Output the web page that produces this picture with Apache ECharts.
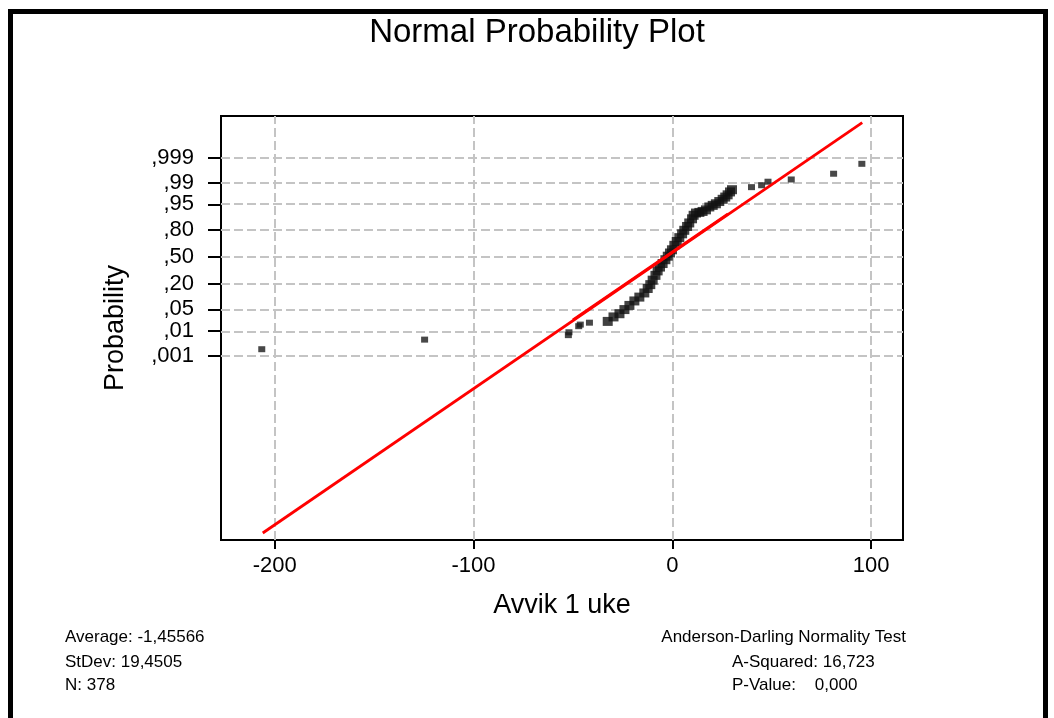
<!DOCTYPE html>
<html>
<head>
<meta charset="utf-8">
<script src="https://cdn.jsdelivr.net/npm/echarts@6/dist/echarts.min.js"></script>
<style>
html,body{margin:0;padding:0;background:#fff;}
#chart{width:1054px;height:718px;}
</style>
</head>
<body>
<div id="chart"></div>
<script>
// ---- data ----
const xTicks = [-200, -100, 0, 100];
// normal-score positions of the probability ticks, and their labels
const yTickZ = [-3.090, -2.326, -1.645, -0.842, 0, 0.842, 1.645, 2.326, 3.090];
const yTickLabels = [',001', ',01', ',05', ',20', ',50', ',80', ',95', ',99', ',999'];

// isolated observations in the tails (x = Avvik 1 uke, z = normal score)
const tailX = [-206.5, -124.6, -52.3, -52.0, -47.1, -46.3, -41.7, 39.8, 44.9, 48.1, 59.8, 81.1, 95.3];
const tailZ = [-2.89, -2.59, -2.45, -2.36, -2.17, -2.12, -2.06, 2.18, 2.24, 2.35, 2.42, 2.60, 2.91];

// dense body of observations
const bodyX = [-32.5, -29.6, -26.6, -24.1, -21.6, -19.1, -16.6, -14.1, -12.4, -11.1, -9.9, -8.5, -7.4, -6.2, -4.9, -3.5, -2.3, -1.2, -0.2, 1.0, 2.2, 3.5, 4.9, 6.0, 7.4, 8.5, 9.9, 10.7, 11.9, 13.6, 15.2, 16.9, 18.6, 20.3, 21.9, 23.6, 25.3, 26.6, 27.8, 29.0, 30.0];
const bodyZ = [-2.02, -1.88, -1.78, -1.65, -1.52, -1.38, -1.26, -1.13, -0.99, -0.87, -0.73, -0.58, -0.44, -0.32, -0.21, -0.09, 0.02, 0.12, 0.22, 0.36, 0.48, 0.60, 0.72, 0.83, 0.95, 1.06, 1.19, 1.30, 1.37, 1.39, 1.42, 1.47, 1.56, 1.61, 1.66, 1.73, 1.80, 1.87, 1.94, 2.03, 2.10];

// fitted normal line
const fitX = [-206, 95.5];
const fitZ = [-8.64, 4.20];
const fit2X = [-50, 28];
const fit2Z = [-1.97, 1.345];

// summary statistics
const average = '-1,45566';
const stdev = '19,4505';
const nObs = '378';
const aSquared = '16,723';
const pValue = '0,000';

// ---- chart ----
const FONT = "'Liberation Sans', Arial, sans-serif";
const tail = tailX.map((x, i) => [x, tailZ[i]]);
const body = bodyX.map((x, i) => [x, bodyZ[i]]);
const fit = fitX.map((x, i) => [x, fitZ[i]]);
const fit2 = fit2X.map((x, i) => [x, fit2Z[i]]);
const gridStyle = {color: '#c4c4c4', width: 2, type: [9, 4]};

const chart = echarts.init(document.getElementById('chart'));
chart.setOption({
  animation: false,
  backgroundColor: '#fff',
  textStyle: {fontFamily: FONT},
  grid: {left: 221, top: 116, right: 151, bottom: 178, show: true, borderColor: '#000', borderWidth: 2, backgroundColor: 'transparent'},
  xAxis: {
    type: 'value', min: -227, max: 116,
    name: 'Avvik 1 uke', nameLocation: 'middle', nameGap: 52,
    nameTextStyle: {fontSize: 27, color: '#000', fontFamily: FONT},
    axisLine: {show: true, onZero: false, lineStyle: {color: '#000', width: 2}},
    axisTick: {show: true, length: 9, customValues: xTicks, lineStyle: {color: '#000', width: 2}},
    axisLabel: {customValues: xTicks, fontSize: 22, color: '#000', margin: 15, fontFamily: FONT},
    splitLine: {show: false}
  },
  yAxis: {
    type: 'value', min: -8.859, max: 4.406,
    name: 'Probability', nameLocation: 'middle', nameGap: 92, nameRotate: 90,
    nameTextStyle: {fontSize: 27, color: '#000', fontFamily: FONT},
    axisLine: {show: true, onZero: false, lineStyle: {color: '#000', width: 2}},
    axisTick: {show: true, length: 13, customValues: yTickZ, lineStyle: {color: '#000', width: 2}},
    axisLabel: {customValues: yTickZ, fontSize: 22, color: '#000', margin: 27, fontFamily: FONT,
      formatter: v => { const i = yTickZ.findIndex(t => Math.abs(t - v) < 1e-6); return i >= 0 ? yTickLabels[i] : ''; }},
    splitLine: {show: false}
  },
  series: [
    {
      type: 'line', data: [], z: 1, silent: true,
      markLine: {
        silent: true, symbol: ['none', 'none'], z: 1,
        label: {show: false}, lineStyle: gridStyle, emphasis: {disabled: true},
        data: xTicks.map(v => ({xAxis: v})).concat(yTickZ.map(v => ({yAxis: v})))
      }
    },
    {
      type: 'scatter', data: tail, z: 3, symbol: 'rect', symbolSize: [7, 6],
      itemStyle: {color: '#1a1a1a'}, silent: true
    },
    {
      type: 'scatter', data: body, z: 3, symbol: 'rect', symbolSize: [10, 9],
      itemStyle: {color: '#111'}, silent: true
    },
    {
      type: 'line', data: fit, z: 4, symbol: 'none', silent: true,
      lineStyle: {color: '#ff0000', width: 2.8}
    },
    {
      type: 'line', data: fit2, z: 4, symbol: 'none', silent: true,
      lineStyle: {color: '#ff0000', width: 2.8}
    }
  ],
  graphic: [
    {type: 'rect', shape: {x: 8, y: 9, width: 1040, height: 5}, style: {fill: '#000'}, silent: true},
    {type: 'rect', shape: {x: 8, y: 9, width: 5, height: 709}, style: {fill: '#000'}, silent: true},
    {type: 'rect', shape: {x: 1043, y: 9, width: 5, height: 709}, style: {fill: '#000'}, silent: true},
    {type: 'text', x: 537, y: 33, style: {text: 'Normal Probability Plot', font: '33px ' + FONT, fill: '#000', textAlign: 'center', textVerticalAlign: 'middle'}},
    {type: 'text', x: 65, y: 637, style: {text: 'Average: ' + average, font: '17px ' + FONT, fill: '#000', textVerticalAlign: 'middle'}},
    {type: 'text', x: 65, y: 662, style: {text: 'StDev: ' + stdev, font: '17px ' + FONT, fill: '#000', textVerticalAlign: 'middle'}},
    {type: 'text', x: 65, y: 685, style: {text: 'N: ' + nObs, font: '17px ' + FONT, fill: '#000', textVerticalAlign: 'middle'}},
    {type: 'text', x: 906, y: 637, style: {text: 'Anderson-Darling Normality Test', font: '17px ' + FONT, fill: '#000', textAlign: 'right', textVerticalAlign: 'middle'}},
    {type: 'text', x: 732, y: 662, style: {text: 'A-Squared: ' + aSquared, font: '17px ' + FONT, fill: '#000', textVerticalAlign: 'middle'}},
    {type: 'text', x: 732, y: 685, style: {text: 'P-Value:    ' + pValue, font: '17px ' + FONT, fill: '#000', textVerticalAlign: 'middle'}}
  ]
});
</script>
</body>
</html>
